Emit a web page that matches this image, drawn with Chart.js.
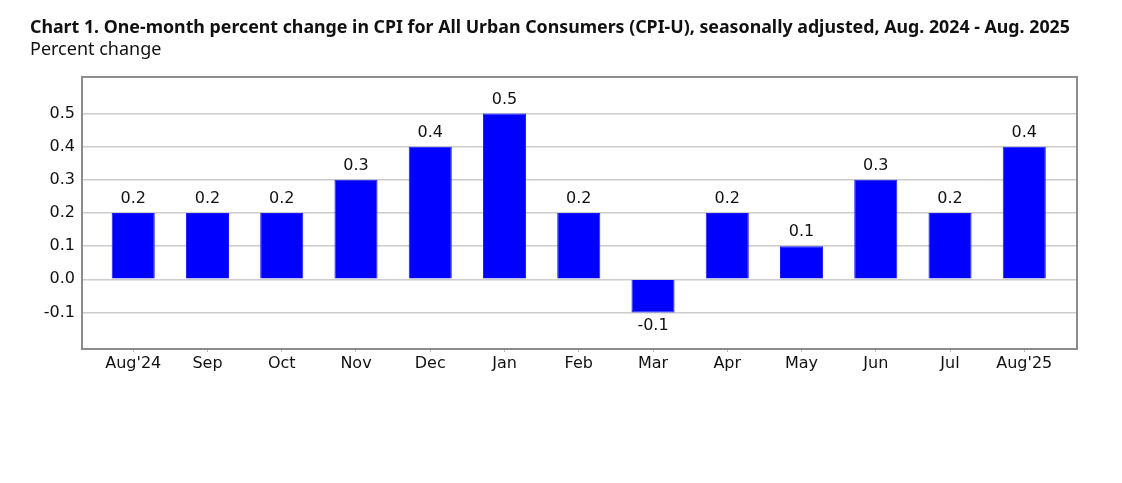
<!DOCTYPE html>
<html>
<head>
<meta charset="utf-8">
<script src="https://cdn.jsdelivr.net/npm/chart.js@4"></script>
<style>
  html,body{margin:0;padding:0;background:#fff;}
  #wrap{width:1122px;height:483px;position:relative;}
</style>
</head>
<body>
<div id="wrap"><canvas id="c" width="1122" height="483"></canvas></div>
<script>
const categories = ["Aug'24","Sep","Oct","Nov","Dec","Jan","Feb","Mar","Apr","May","Jun","Jul","Aug'25"];
const values = [0.2,0.2,0.2,0.3,0.4,0.5,0.2,-0.1,0.2,0.1,0.3,0.2,0.4];
const yTicks = [-0.1,0.0,0.1,0.2,0.3,0.4,0.5];
const titleText = "Chart 1. One-month percent change in CPI for All Urban Consumers (CPI-U), seasonally adjusted, Aug. 2024 - Aug. 2025";
const subtitleText = "Percent change";

const points = values.map((v,i)=>({x:i,y:v}));

const frame = {
  id:'frame',
  afterDatasetsDraw(chart){
    const {ctx, chartArea:a} = chart;
    ctx.save();
    ctx.strokeStyle = '#8c8c8c';
    ctx.lineWidth = 2;
    ctx.strokeRect(a.left, a.top, a.right-a.left, a.bottom-a.top);
    ctx.restore();
  }
};
const valueLabels = {
  id:'valueLabels',
  afterDatasetsDraw(chart){
    const {ctx} = chart;
    const meta = chart.getDatasetMeta(0);
    ctx.save();
    ctx.font = '16px "DejaVu Sans"';
    ctx.fillStyle = '#111';
    ctx.textAlign = 'center';
    meta.data.forEach((bar,i)=>{
      const v = values[i];
      const txt = v.toFixed(1);
      if (v >= 0) {
        ctx.textBaseline = 'bottom';
        ctx.fillText(txt, bar.x, bar.y - 6);
      } else {
        ctx.textBaseline = 'top';
        ctx.fillText(txt, bar.x, bar.y + 5);
      }
    });
    ctx.restore();
  }
};

new Chart(document.getElementById('c'), {
  type:'bar',
  data:{
    datasets:[{
      data: points,
      backgroundColor:'#0000ff',
      borderColor:'#1a1aff',
      borderWidth:1,
      categoryPercentage:1,
      barPercentage:0.58
    }]
  },
  options:{
    responsive:false,
    animation:false,
    devicePixelRatio:1,
    layout:{padding:{left:30,right:45,top:0,bottom:0}},
    plugins:{
      legend:{display:false},
      tooltip:{enabled:false},
      title:{
        display:true, text:titleText, align:'start', color:'#111',
        font:{family:'"Noto Sans"', size:17.8, weight:'bold', lineHeight:1.2},
        padding:{top:17,bottom:0}
      },
      subtitle:{
        display:true, text:subtitleText, align:'start', color:'#111',
        font:{family:'"Noto Sans"', size:18, weight:'normal', lineHeight:1.2},
        padding:{top:1,bottom:16}
      }
    },
    scales:{
      x:{
        type:'linear',
        offset:false,
        min:-0.69, max:12.71,
        afterBuildTicks(s){ s.ticks = categories.map((c,i)=>({value:i})); },
        afterFit(s){ s.height = 134; },
        ticks:{
          autoSkip:false, maxRotation:0, padding:2,
          color:'#111', font:{family:'"DejaVu Sans"', size:16},
          callback:(v)=>categories[v] ?? ''
        },
        grid:{offset:false, drawOnChartArea:false, drawTicks:true, tickLength:3, color:'#bbbbbb'},
        border:{display:false}
      },
      y:{
        min:-0.21, max:0.61,
        afterBuildTicks(s){ s.ticks = yTicks.map(v=>({value:v})); },
        afterFit(s){ s.width = 52; },
        ticks:{
          padding:7, color:'#111', font:{family:'"DejaVu Sans"', size:16},
          callback:(v)=>Number(v).toFixed(1)
        },
        grid:{color:'#cccccc', lineWidth:1.5, drawTicks:false},
        border:{display:false}
      }
    }
  },
  plugins:[frame, valueLabels]
});
</script>
</body>
</html>
